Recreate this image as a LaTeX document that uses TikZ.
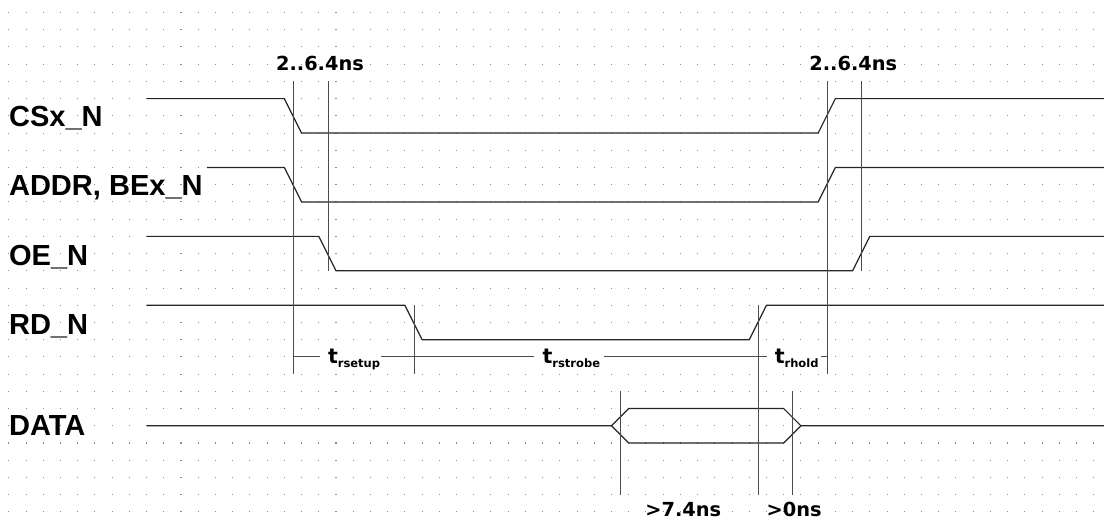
\documentclass[tikz,border=0pt]{standalone}
\usepackage{fontspec}
\setmainfont{Liberation Sans}
\newfontfamily\dejavu{DejaVu Sans}
\newcommand{\tdly}[1]{{\fontsize{17}{17}\selectfont t}\raisebox{-3.3pt}{\fontsize{9.5}{9.5}\selectfont #1}}

\begin{document}
\begin{tikzpicture}[x=0.5cm, y=-0.5cm, every node/.style={inner sep=0pt},
  sig/.style={line width=1pt, black!85},
  tmark/.style={line width=0.8pt, black!70},
  signame/.style={anchor=base west, font=\fontsize{24}{24}\selectfont\bfseries},
  delay/.style={font=\dejavu\fontsize{16}{16}\selectfont\bfseries},
  tlab/.style={anchor=base west, fill=white, font=\dejavu\bfseries}]
\useasboundingbox (-0.511,-0.726) rectangle (63.6,29.88);
\fill[white] (-0.511,-0.726) rectangle (63.6,29.88);
% dotted grid
\foreach \i in {0,...,63} \foreach \j in {0,...,29}
  \fill[black!45] (\i-0.03,\j-0.03) rectangle +(0.06,0.06);
% signal names
\node[signame] (cs) at (0,6.6) {CSx\_N};
\node[signame] (addr) at (0,10.6) {ADDR, BEx\_N};
\node[signame] (oe) at (0,14.7) {OE\_N};
\node[signame] (rd) at (0,18.7) {RD\_N};
\node[signame] (data) at (0,24.55) {DATA};
% waveforms
\draw[sig] (8,5) -- (16,5) -- (17,7) -- (47,7) -- (48,5) -- (63.6,5);
\draw[sig] (11.5,9) -- (16,9) -- (17,11) -- (47,11) -- (48,9) -- (63.6,9);
\draw[sig] (8,13) -- (18,13) -- (19,15) -- (49,15) -- (50,13) -- (63.6,13);
\draw[sig] (8,17) -- (23,17) -- (24,19) -- (43,19) -- (44,17) -- (63.6,17);
\draw[sig] (8,24) -- (35,24) -- (36,23) -- (45,23) -- (46,24) -- (63.6,24);
\draw[sig] (35,24) -- (36,25) -- (45,25) -- (46,24);
% timing marks
\foreach \x/\a/\b in {16.53/4/21, 18.54/4/15, 23.55/17/21, 43.54/17/28,
  47.52/4/21, 49.5/4/15, 35.55/22/28, 45.52/22/28}
  \draw[tmark] (\x,\a) -- (\x,\b);
\coordinate (m1) at (16.53,20);
\coordinate (m2) at (47.52,20);
\draw[tmark] (m1) -- (m2);
\node[tlab] (setup) at (18.07,20.37) {\kern6.5pt\tdly{rsetup}\kern0.5pt};
\node[tlab] (strobe) at (30.46,20.37) {\kern7.5pt\tdly{rstrobe}\kern3pt};
\node[tlab] (hold) at (44.01,20.37) {\kern6.5pt\tdly{rhold}\kern2pt};
% delay values
\node[delay] (d1) at (18.07,2.95) {2..6.4ns};
\node[delay] (d2) at (49.04,2.95) {2..6.4ns};
\node[delay] (d3) at (39.17,28.87) {>7.4ns};
\node[delay] (d4) at (45.61,28.87) {>0ns};
\end{tikzpicture}
\end{document}
